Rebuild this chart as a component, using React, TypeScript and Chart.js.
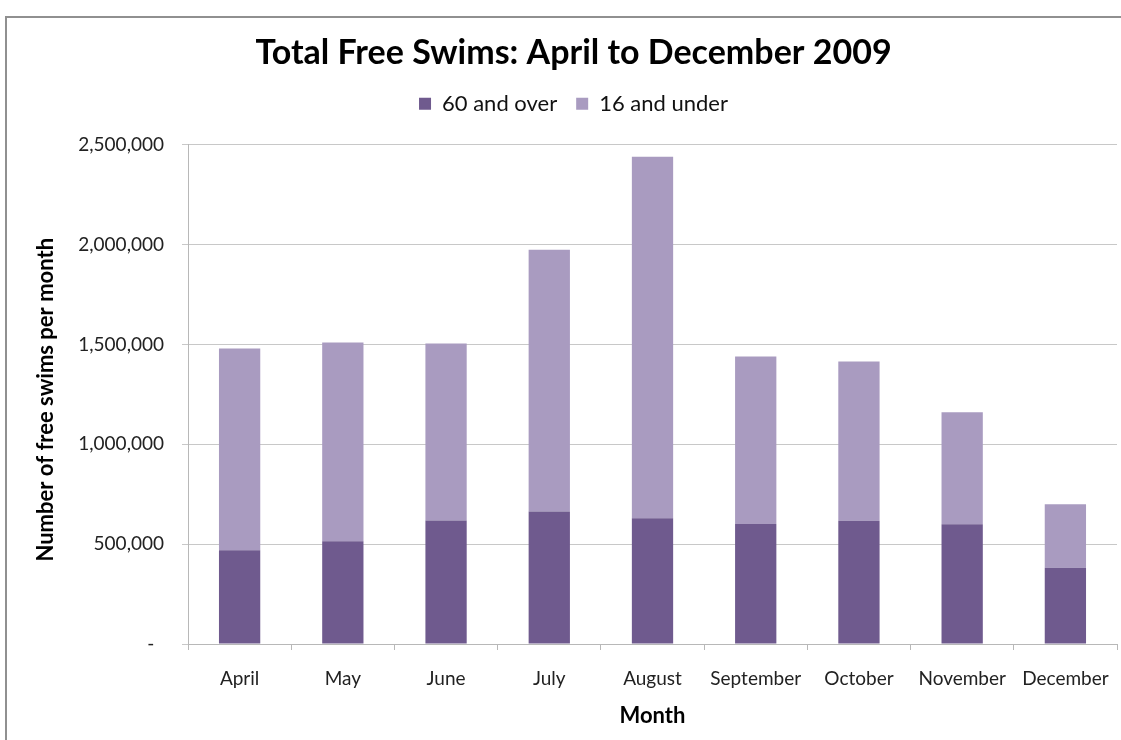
import React, { useEffect, useRef } from "react";
import { Chart, registerables } from "chart.js";

Chart.register(...registerables);

const months = ["April", "May", "June", "July", "August", "September", "October", "November", "December"];
const over60 = [470000, 515000, 618000, 663000, 630000, 601000, 617000, 600000, 382000];
const under16 = [1010000, 995000, 887000, 1312000, 1810000, 839000, 798000, 560000, 318000];
const yTicks = [0, 500000, 1000000, 1500000, 2000000, 2500000];

const FONT = "Lato, 'Open Sans', sans-serif";

const legendGap = {
  id: "legendGap",
  beforeInit(chart: any) {
    const lg = chart.legend;
    if (!lg) return;
    const orig = lg.fit;
    lg.fit = function () {
      orig.call(this);
      this.height += 20;
    };
  },
};

export default function App() {
  const ref = useRef<HTMLCanvasElement | null>(null);

  useEffect(() => {
    document.body.style.margin = "0";
    document.body.style.overflow = "hidden";
    const canvas = ref.current;
    if (!canvas) return;
    const chart = new Chart(canvas, {
      type: "bar",
      data: {
        labels: months,
        datasets: [
          {
            label: "60 and over",
            data: over60,
            backgroundColor: "#6F5A8E",
            barPercentage: 0.4,
            categoryPercentage: 1,
          },
          {
            label: "16 and under",
            data: under16,
            backgroundColor: "#A99BC0",
            barPercentage: 0.4,
            categoryPercentage: 1,
          },
        ],
      },
      plugins: [legendGap],
      options: {
        animation: false,
        responsive: true,
        maintainAspectRatio: false,
        layout: { padding: { top: 33, right: 4, left: 30, bottom: 0 } },
        plugins: {
          tooltip: { enabled: false },
          title: {
            display: true,
            text: "Total Free Swims: April to December 2009",
            color: "#000",
            font: { family: FONT, size: 34, weight: "bold" },
            padding: { top: 0, bottom: 0 },
          },
          legend: {
            display: true,
            position: "top",
            labels: {
              color: "#111",
              font: { family: FONT, size: 22 },
              boxWidth: 12,
              boxHeight: 12,
              padding: 19,
            },
          },
        },
        scales: {
          x: {
            stacked: true,
            offset: true,
            grid: {
              display: true,
              offset: true,
              drawOnChartArea: false,
              drawTicks: true,
              tickLength: 6,
              color: "#b8b8b8",
            },
            border: { display: true, color: "#b8b8b8" },
            ticks: {
              color: "#222",
              font: { family: FONT, size: 19 },
              padding: 17,
              maxRotation: 0,
            },
            title: {
              display: true,
              text: "Month",
              color: "#000",
              font: { family: FONT, size: 22, weight: "bold" },
              padding: { top: 0, bottom: 11 },
            },
            afterFit: (scale: any) => {
              scale.height = 96;
              scale.paddingLeft = 0;
              scale.paddingRight = 0;
            },
          },
          y: {
            stacked: true,
            min: 0,
            max: 2500000,
            afterBuildTicks: (scale: any) => {
              scale.ticks = yTicks.map((v) => ({ value: v }));
            },
            grid: {
              color: "#c8c8c8",
              tickLength: 6,
            },
            border: { display: true, color: "#b8b8b8" },
            ticks: {
              color: "#222",
              font: { family: FONT, size: 19 },
              padding: 18,
              callback: (v: any) => (Number(v) === 0 ? "-  " : Number(v).toLocaleString("en-US")),
            },
            title: {
              display: true,
              text: "Number of free swims per month  ",
              color: "#000",
              font: { family: FONT, size: 22, weight: "bold" },
              padding: { top: 3, bottom: 0 },
            },
            afterFit: (scale: any) => {
              scale.width = 158;
            },
          },
        },
      },
    });
    return () => chart.destroy();
  }, []);

  return (
    <div
      style={{
        position: "fixed",
        left: 0,
        top: 0,
        width: 1121,
        height: 740,
        background: "#fff",
        overflow: "hidden",
      }}
    >
      <div
        style={{
          position: "absolute",
          left: 5,
          top: 16,
          width: 1116,
          height: 724,
          borderLeft: "2px solid #909090",
          borderTop: "2px solid #909090",
          boxSizing: "border-box",
        }}
      />
      <canvas ref={ref} style={{ position: "absolute", left: 0, top: 0 }} />
    </div>
  );
}
